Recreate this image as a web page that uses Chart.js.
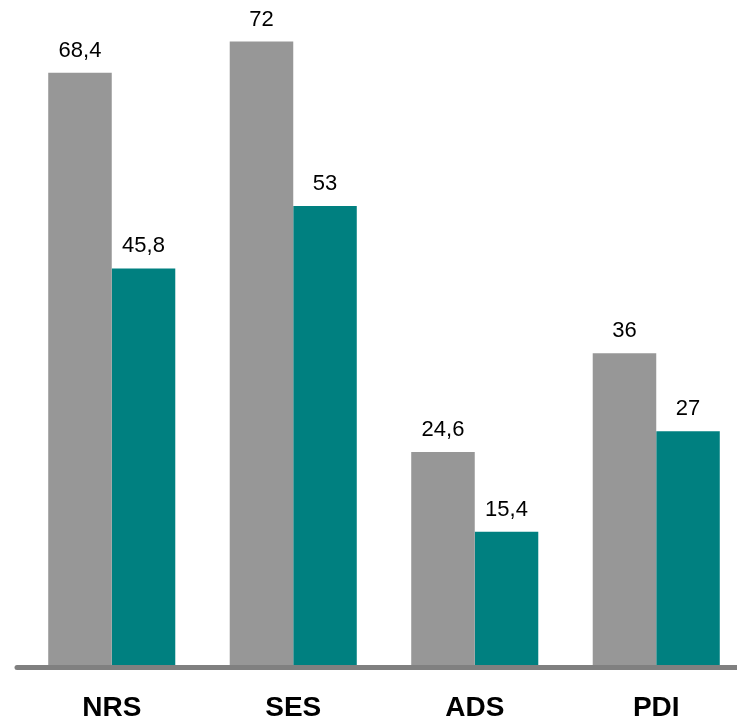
<!DOCTYPE html>
<html>
<head>
<meta charset="utf-8">
<script src="https://cdn.jsdelivr.net/npm/chart.js@4/dist/chart.umd.min.js"></script>
<style>
  html, body { margin: 0; padding: 0; background: #fff; overflow: hidden; }
  #wrap { position: relative; width: 747px; height: 721px; }
</style>
</head>
<body>
<div id="wrap"><canvas id="chart"></canvas></div>
<script>
const categories = ['NRS', 'SES', 'ADS', 'PDI'];
const seriesA = [68.4, 72, 24.6, 36];
const seriesB = [45.8, 53, 15.4, 27];

function fmt(v){ return String(v).replace('.', ','); }

// value labels above bars
const topLabels = {
  id: 'topLabels',
  afterDatasetsDraw(chart){
    const ctx = chart.ctx;
    ctx.save();
    ctx.font = '22px "Liberation Sans", Arial, sans-serif';
    ctx.fillStyle = '#000';
    ctx.textAlign = 'center';
    ctx.textBaseline = 'alphabetic';
    chart.data.datasets.forEach((ds, i) => {
      chart.getDatasetMeta(i).data.forEach((bar, j) => {
        ctx.fillText(fmt(ds.data[j]), bar.x, bar.y - 16);
      });
    });
    ctx.restore();
  }
};

// thick grey baseline under the bars
const baseLine = {
  id: 'baseLine',
  afterDatasetsDraw(chart){
    const ctx = chart.ctx;
    const y = chart.scales.y.getPixelForValue(0) + 2.5;
    ctx.save();
    ctx.strokeStyle = '#808080';
    ctx.lineWidth = 5;
    ctx.lineCap = 'round';
    ctx.beginPath();
    ctx.moveTo(17, y);
    ctx.lineTo(chart.width + 5, y);
    ctx.stroke();
    ctx.restore();
  }
};

new Chart(document.getElementById('chart'), {
  type: 'bar',
  data: {
    labels: categories,
    datasets: [
      { data: seriesA, backgroundColor: '#979797', categoryPercentage: 0.7, barPercentage: 1 },
      { data: seriesB, backgroundColor: '#008080', categoryPercentage: 0.7, barPercentage: 1 }
    ]
  },
  options: {
    responsive: true,
    maintainAspectRatio: false,
    animation: false,
    layout: { padding: { left: 21, right: 0, top: 0, bottom: 0 } },
    plugins: { legend: { display: false }, tooltip: { enabled: false } },
    scales: {
      x: {
        grid: { display: false, drawTicks: false },
        border: { display: false },
        afterFit(s){ s.height = 56; },
        ticks: {
          color: '#000',
          padding: 29,
          font: { family: '"Liberation Sans", Arial, sans-serif', size: 28, weight: 'bold', lineHeight: 1 }
        }
      },
      y: { display: false, min: 0, max: 76.8 }
    }
  },
  plugins: [topLabels, baseLine]
});
</script>
</body>
</html>
